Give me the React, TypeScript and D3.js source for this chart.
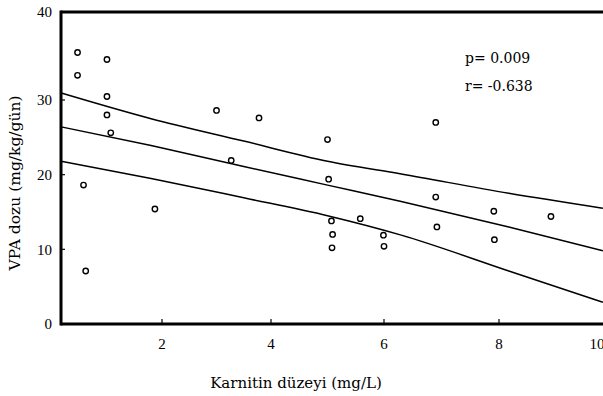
import React from "react";
import * as d3 from "d3";

const pointsX = [0.45, 0.45, 0.56, 0.6, 0.99, 0.99, 0.99, 1.06, 1.87, 3.0, 3.27, 3.78, 5.0, 5.02, 5.07, 5.09, 5.08, 5.58, 5.99, 6.0, 6.9, 6.9, 6.92, 7.91, 7.92, 9.06];
const pointsY = [35.4, 32.8, 18.6, 7.1, 34.6, 30.4, 28.0, 25.6, 15.4, 28.6, 21.9, 27.6, 24.7, 19.4, 13.8, 12.0, 10.2, 14.1, 11.9, 10.4, 27.0, 17.0, 13.0, 15.1, 11.3, 14.4];

const lineX = [0.15, 1.8, 3.5, 5.0, 6.3, 8.2, 10.12];
const upperCI = [30.8, 27.5, 24.5, 21.8, 20.1, 17.5, 15.5];
const fitLine = [26.4, 23.9, 21.1, 18.6, 16.4, 13.0, 9.8];
const lowerCI = [21.8, 19.5, 16.9, 14.5, 11.9, 7.1, 2.9];

const xTicks = [2, 4, 6, 8, 10];
const yTicks = [0, 10, 20, 30, 40];

const statLines = ["p= 0.009", "r= -0.638"];
const xTitle = "Karnitin düzeyi (mg/L)";
const yTitle = "VPA dozu (mg/kg/gün)";

const W = 603;
const H = 396;
const FONT = "'Liberation Serif', 'DejaVu Serif', serif";
const WIDE = "'DejaVu Serif', serif";

export default function App() {
  const x = d3.scaleLinear().domain([0, 2, 4, 6, 8, 10]).range([53, 162, 271, 384, 499, 597]);
  const y = d3.scaleLinear().domain([0, 30, 40]).range([324, 100, 12]);
  const x0 = 61;
  const xEnd = W;
  const yBottom = y(0);
  const yTop = y(40);

  const line = d3
    .line<number>()
    .x((_, i) => x(lineX[i]))
    .y((d) => y(d))
    .curve(d3.curveMonotoneX);

  return (
    <svg
      width={W}
      height={H}
      style={{ position: "absolute", left: 0, top: 0, background: "#fff" }}
      fontFamily={FONT}
    >
      {/* frame */}
      <line x1={x0} x2={xEnd} y1={yTop} y2={yTop} stroke="#000" strokeWidth={3} />
      <line x1={x0} x2={x0} y1={yTop - 1.5} y2={yBottom + 1.5} stroke="#000" strokeWidth={3} />
      <line x1={x0} x2={xEnd} y1={yBottom} y2={yBottom} stroke="#000" strokeWidth={3} />

      {/* y ticks */}
      {yTicks.map((t) => (
        <g key={"y" + t}>
          {t > 0 && t < 40 && (
            <line x1={x0} x2={x0 + 4} y1={y(t)} y2={y(t)} stroke="#000" strokeWidth={1.2} />
          )}
          <text x={52} y={y(t)} dy="0.35em" textAnchor="end" fontSize={15} fill="#000">
            {t}
          </text>
        </g>
      ))}

      {/* x ticks */}
      {xTicks.map((t) => (
        <g key={"x" + t}>
          {t < 10 && (
            <line x1={x(t)} x2={x(t)} y1={yBottom} y2={yBottom - 5} stroke="#000" strokeWidth={1.2} />
          )}
          <text x={x(t)} y={349} textAnchor="middle" fontSize={15} fill="#000">
            {t}
          </text>
        </g>
      ))}

      {/* regression lines */}
      {[upperCI, fitLine, lowerCI].map((arr, i) => (
        <path key={"l" + i} d={line(arr) || ""} fill="none" stroke="#000" strokeWidth={1.5} />
      ))}

      {/* points */}
      {pointsX.map((px, i) => (
        <circle
          key={"p" + i}
          cx={x(px)}
          cy={y(pointsY[i])}
          r={2.7}
          fill="#fff"
          stroke="#000"
          strokeWidth={1.4}
        />
      ))}

      {/* stats */}
      {statLines.map((s, i) => (
        <text key={"s" + i} x={465} y={63 + i * 28} fontSize={14} fontFamily={WIDE} fill="#000">
          {s}
        </text>
      ))}

      {/* axis titles */}
      <text x={296} y={388} textAnchor="middle" fontSize={15} fontFamily={WIDE} fill="#000">
        {xTitle}
      </text>
      <text
        transform={`translate(20, 183) rotate(-90)`}
        textAnchor="middle"
        fontSize={15.5}
        fontFamily={WIDE}
        fill="#000"
      >
        {yTitle}
      </text>
    </svg>
  );
}
